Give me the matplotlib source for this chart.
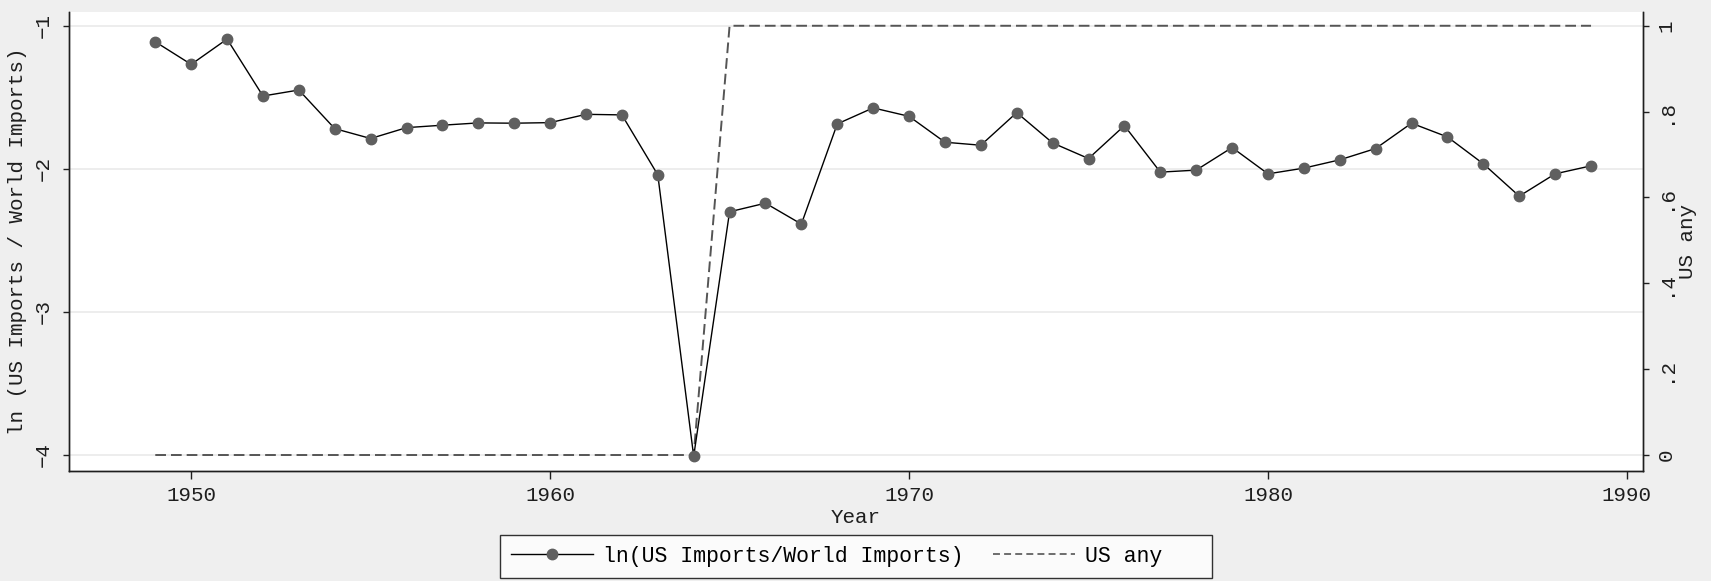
import matplotlib
matplotlib.use("Agg")
import matplotlib.pyplot as plt
from matplotlib.lines import Line2D

# annual series, 1949-1989
years = list(range(1949, 1990))
ln_share = [
    -1.112, -1.270, -1.093, -1.491, -1.449, -1.719, -1.788, -1.712, -1.695, -1.679,
    -1.681, -1.677, -1.619, -1.623, -2.042, -4.009, -2.300, -2.240, -2.386, -1.686,
    -1.574, -1.633, -1.814, -1.835, -1.607, -1.819, -1.928, -1.698, -2.023, -2.009,
    -1.851, -2.035, -1.995, -1.937, -1.858, -1.681, -1.777, -1.965, -2.191, -2.035,
    -1.979,
]
us_any = [0] * 16 + [1] * 25

left_ticks = [-1, -2, -3, -4]
right_ticks = [0, 0.2, 0.4, 0.6, 0.8, 1]
right_labels = ["0", ".2", ".4", ".6", ".8", "1"]
year_ticks = [1950, 1960, 1970, 1980, 1990]

BG = "#efefef"
INK = "#1e1e1e"
DOT = "#5f5f5f"
DASH = "#555555"
GRID = "#eaeaea"
MONO = "Liberation Mono"

plt.rcParams.update({
    "font.family": MONO,
    "axes.unicode_minus": True,
    "lines.scale_dashes": False,
})

fig = plt.figure(figsize=(17.11, 5.81), dpi=100, facecolor=BG)
ax = fig.add_axes([0.0402, 0.1893, 0.9201, 0.7900])
ax2 = ax.twinx()

# left axis sits above the twin so the marker series overlays the dashed line;
# the twin carries the white plot background and the grid
ax.set_zorder(ax2.get_zorder() + 1)
ax.patch.set_visible(False)
ax2.patch.set_visible(True)
ax2.patch.set_facecolor("white")

for t in left_ticks:
    ax2.plot([0, 1], [t, t], transform=ax.get_yaxis_transform(),
             color=GRID, lw=1.2, zorder=0)

ax.plot(years, ln_share, color="black", lw=1.0, marker="o", ms=7.5,
        mfc=DOT, mec=DOT, zorder=3)
ax2.plot(years, us_any, color=DASH, lw=1.4, dashes=(7.7, 3.6), zorder=2)

ax.set_xlim(1946.59, 1990.45)
ax.set_ylim(-4.112, -0.904)
ax2.set_ylim(-0.0373, 1.032)

ax.set_yticks(left_ticks)
ax.set_yticklabels([str(t).replace("-", "\u2212") for t in left_ticks],
                   rotation=90, va="center")
ax2.set_yticks(right_ticks)
ax2.set_yticklabels(right_labels, rotation=90, va="center")
ax.set_xticks(year_ticks)

ax.tick_params(axis="y", length=4.5, width=1, color=INK, pad=7,
               labelsize=15, labelcolor=INK)
ax.tick_params(axis="x", length=6, width=1, color=INK, pad=5,
               labelsize=15, labelcolor=INK)
ax2.tick_params(axis="y", length=4.5, width=1, color=INK, pad=5,
                labelsize=15, labelcolor=INK)

for a in (ax, ax2):
    a.spines["top"].set_visible(False)
    for s in ("left", "right", "bottom"):
        a.spines[s].set_color(INK)
        a.spines[s].set_linewidth(1.0)

ax.set_xlabel("Year", fontsize=15, color=INK, labelpad=2)
ax.set_ylabel("ln (US Imports / World Imports)", fontsize=15, color=INK,
              labelpad=5)
ax2.set_ylabel("US any", fontsize=15, color=INK, labelpad=2)

handles = [
    Line2D([], [], color="black", lw=1.0, marker="o", ms=7.5,
           mfc=DOT, mec=DOT),
    Line2D([], [], color=DASH, lw=1.2, dashes=(5, 3)),
]
# trailing spaces leave the wider right margin inside the legend box
leg = fig.legend(handles, ["ln(US Imports/World Imports)", "US any   "],
                 loc="lower center", bbox_to_anchor=(0.5003, -0.013),
                 ncol=2, fontsize=15.5, frameon=True, fancybox=False,
                 handlelength=3.8, columnspacing=1.35, borderpad=0.5,
                 handletextpad=0.5)
leg.get_frame().set_edgecolor("black")
leg.get_frame().set_linewidth(1.0)
leg.get_frame().set_facecolor("white")

fig.savefig("out.png", dpi=100, facecolor=BG)
